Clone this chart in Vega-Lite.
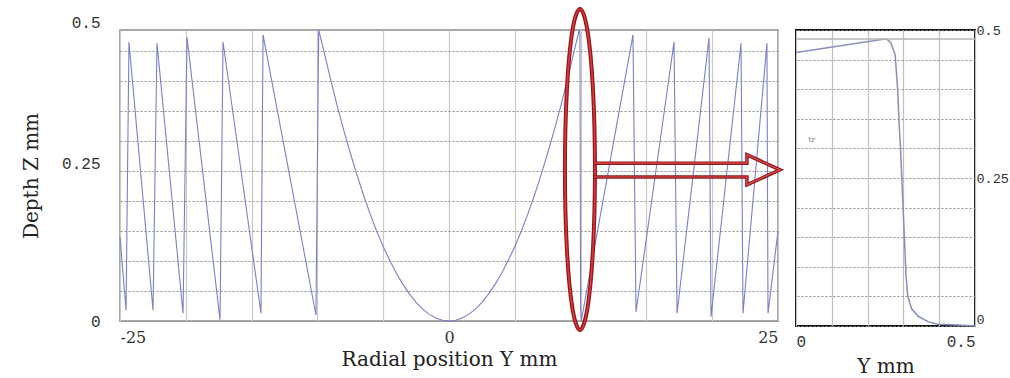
{
  "$schema": "https://vega.github.io/schema/vega-lite/v6.json",
  "background": "white",
  "padding": {"left": 20, "top": 0, "right": 0, "bottom": 0},
  "bounds": "flush",
  "spacing": 18,
  "config": {
    "axis": {"labelFont": "Liberation Mono", "labelFontSize": 16, "labelColor": "#333333", "titleFont": "DejaVu Serif", "titleFontSize": 20, "titleFontWeight": "normal", "titleColor": "#222222", "domain": false, "ticks": false, "tickCount": 40}
  },
  "datasets": {
    "main": [
      {"i": 1, "Y": -25.0, "Z": 0.14},
      {"i": 2, "Y": -24.54, "Z": 0.018},
      {"i": 3, "Y": -24.32, "Z": 0.465},
      {"i": 4, "Y": -22.49, "Z": 0.018},
      {"i": 5, "Y": -22.19, "Z": 0.463},
      {"i": 6, "Y": -20.21, "Z": 0.013},
      {"i": 7, "Y": -19.91, "Z": 0.473},
      {"i": 8, "Y": -17.4, "Z": 0.002},
      {"i": 9, "Y": -17.17, "Z": 0.465},
      {"i": 10, "Y": -14.29, "Z": 0.013},
      {"i": 11, "Y": -14.13, "Z": 0.477},
      {"i": 12, "Y": -10.11, "Z": 0.01},
      {"i": 13, "Y": -9.9, "Z": 0.485},
      {"i": 14, "Y": -9.5, "Z": 0.449},
      {"i": 15, "Y": -9.0, "Z": 0.403},
      {"i": 16, "Y": -8.5, "Z": 0.359},
      {"i": 17, "Y": -8.0, "Z": 0.318},
      {"i": 18, "Y": -7.5, "Z": 0.28},
      {"i": 19, "Y": -7.0, "Z": 0.244},
      {"i": 20, "Y": -6.5, "Z": 0.21},
      {"i": 21, "Y": -6.0, "Z": 0.179},
      {"i": 22, "Y": -5.5, "Z": 0.15},
      {"i": 23, "Y": -5.0, "Z": 0.124},
      {"i": 24, "Y": -4.5, "Z": 0.101},
      {"i": 25, "Y": -4.0, "Z": 0.0795},
      {"i": 26, "Y": -3.5, "Z": 0.061},
      {"i": 27, "Y": -3.0, "Z": 0.0447},
      {"i": 28, "Y": -2.5, "Z": 0.031},
      {"i": 29, "Y": -2.0, "Z": 0.0199},
      {"i": 30, "Y": -1.5, "Z": 0.011},
      {"i": 31, "Y": -1.0, "Z": 0.005},
      {"i": 32, "Y": -0.5, "Z": 0.0012},
      {"i": 33, "Y": 0.0, "Z": 0.0},
      {"i": 34, "Y": 0.5, "Z": 0.0012},
      {"i": 35, "Y": 1.0, "Z": 0.005},
      {"i": 36, "Y": 1.5, "Z": 0.011},
      {"i": 37, "Y": 2.0, "Z": 0.0199},
      {"i": 38, "Y": 2.5, "Z": 0.031},
      {"i": 39, "Y": 3.0, "Z": 0.0447},
      {"i": 40, "Y": 3.5, "Z": 0.061},
      {"i": 41, "Y": 4.0, "Z": 0.0795},
      {"i": 42, "Y": 4.5, "Z": 0.101},
      {"i": 43, "Y": 5.0, "Z": 0.124},
      {"i": 44, "Y": 5.5, "Z": 0.15},
      {"i": 45, "Y": 6.0, "Z": 0.179},
      {"i": 46, "Y": 6.5, "Z": 0.21},
      {"i": 47, "Y": 7.0, "Z": 0.244},
      {"i": 48, "Y": 7.5, "Z": 0.28},
      {"i": 49, "Y": 8.0, "Z": 0.318},
      {"i": 50, "Y": 8.5, "Z": 0.359},
      {"i": 51, "Y": 9.0, "Z": 0.403},
      {"i": 52, "Y": 9.5, "Z": 0.449},
      {"i": 53, "Y": 9.9, "Z": 0.485},
      {"i": 54, "Y": 9.95, "Z": 0.478},
      {"i": 55, "Y": 10.0, "Z": 0.02},
      {"i": 56, "Y": 10.05, "Z": 0.0},
      {"i": 57, "Y": 13.98, "Z": 0.477},
      {"i": 58, "Y": 14.21, "Z": 0.015},
      {"i": 59, "Y": 17.1, "Z": 0.465},
      {"i": 60, "Y": 17.33, "Z": 0.013},
      {"i": 61, "Y": 19.76, "Z": 0.472},
      {"i": 62, "Y": 19.91, "Z": 0.007},
      {"i": 63, "Y": 22.19, "Z": 0.463},
      {"i": 64, "Y": 22.34, "Z": 0.013},
      {"i": 65, "Y": 24.16, "Z": 0.463},
      {"i": 66, "Y": 24.24, "Z": 0.013},
      {"i": 67, "Y": 25.0, "Z": 0.15}
    ],
    "ellipse": [
      {"i": 1, "Y": 11.09, "Z": 0.2525},
      {"i": 2, "Y": 10.94, "Z": 0.386},
      {"i": 3, "Y": 10.52, "Z": 0.484},
      {"i": 4, "Y": 9.95, "Z": 0.52},
      {"i": 5, "Y": 9.38, "Z": 0.484},
      {"i": 6, "Y": 8.96, "Z": 0.386},
      {"i": 7, "Y": 8.81, "Z": 0.2525},
      {"i": 8, "Y": 8.96, "Z": 0.119},
      {"i": 9, "Y": 9.38, "Z": 0.021},
      {"i": 10, "Y": 9.95, "Z": -0.015},
      {"i": 11, "Y": 10.52, "Z": 0.021},
      {"i": 12, "Y": 10.94, "Z": 0.119}
    ],
    "arrow": [
      {"i": 1, "Y": 11.02, "Z": 0.263},
      {"i": 2, "Y": 22.64, "Z": 0.263},
      {"i": 3, "Y": 22.64, "Z": 0.277},
      {"i": 4, "Y": 25.15, "Z": 0.252},
      {"i": 5, "Y": 22.64, "Z": 0.227},
      {"i": 6, "Y": 22.64, "Z": 0.24},
      {"i": 7, "Y": 11.02, "Z": 0.24}
    ],
    "inset": [
      {"i": 1, "Y": 0.0, "Z": 0.462},
      {"i": 2, "Y": 0.253, "Z": 0.485},
      {"i": 3, "Y": 0.265, "Z": 0.478},
      {"i": 4, "Y": 0.277, "Z": 0.458},
      {"i": 5, "Y": 0.284, "Z": 0.399},
      {"i": 6, "Y": 0.288, "Z": 0.342},
      {"i": 7, "Y": 0.292, "Z": 0.3},
      {"i": 8, "Y": 0.298, "Z": 0.215},
      {"i": 9, "Y": 0.303, "Z": 0.147},
      {"i": 10, "Y": 0.307, "Z": 0.088},
      {"i": 11, "Y": 0.312, "Z": 0.051},
      {"i": 12, "Y": 0.323, "Z": 0.029},
      {"i": 13, "Y": 0.342, "Z": 0.016},
      {"i": 14, "Y": 0.37, "Z": 0.007},
      {"i": 15, "Y": 0.397, "Z": 0.003},
      {"i": 16, "Y": 0.435, "Z": 0.002},
      {"i": 17, "Y": 0.494, "Z": 0.0005},
      {"i": 18, "Y": 0.5, "Z": 0.0}
    ],
    "surface": [{"Z": 0.485}],
    "note": [{"Y": 0.034, "Z": 0.315, "label": "tr"}]
  },
  "hconcat": [
    {
      "width": 658,
      "height": 291,
      "view": {"stroke": "#a8a8a8", "strokeWidth": 2},
      "layer": [
        {
          "data": {"name": "main"},
          "mark": {"type": "line", "color": "#7b7fc9", "strokeWidth": 1.1},
          "encoding": {
            "x": {"field": "Y", "type": "quantitative", "scale": {"domain": [-25, 25], "nice": false, "zero": false},
              "axis": {"values": [-25, -20, -15, -10, -5, 0, 5, 10, 15, 20, 25], "labelExpr": "datum.value == 0 ? '0' : datum.value == -25 ? '-25' : datum.value == 25 ? '25' : ''", "grid": true, "gridColor": "#c8c8c8", "gridWidth": 1.2, "labelPadding": 8, "labelFont": "DejaVu Serif", "title": "Radial position  Y mm", "titlePadding": 4}},
            "y": {"field": "Z", "type": "quantitative", "scale": {"domain": [0, 0.485], "nice": false, "zero": false},
              "axis": {"values": [0, 0.05, 0.1, 0.15, 0.2, 0.25, 0.3, 0.35, 0.4, 0.45, 0.485], "labelExpr": "datum.value == 0 ? '0' : datum.value == 0.25 ? '0.25' : datum.value > 0.48 ? '0.5' : ''", "grid": true, "gridColor": "#8c8c8c", "gridDash": [2, 2], "gridOpacity": {"condition": {"test": "datum.value > 0.48", "value": 0}, "value": 1}, "labelBaseline": {"condition": {"test": "datum.value > 0.1", "value": "bottom"}, "value": "middle"}, "labelPadding": 20, "title": "Depth  Z mm", "titlePadding": 20}},
            "order": {"field": "i", "type": "quantitative"}
          }
        },
        {
          "data": {"name": "ellipse"},
          "mark": {"type": "line", "interpolate": "cardinal-closed", "color": "#8b1a1a", "strokeWidth": 4},
          "encoding": {
            "x": {"field": "Y", "type": "quantitative"},
            "y": {"field": "Z", "type": "quantitative"},
            "order": {"field": "i", "type": "quantitative"}
          }
        },
        {
          "data": {"name": "ellipse"},
          "mark": {"type": "line", "interpolate": "cardinal-closed", "color": "#e8343c", "strokeWidth": 1.5},
          "encoding": {
            "x": {"field": "Y", "type": "quantitative"},
            "y": {"field": "Z", "type": "quantitative"},
            "order": {"field": "i", "type": "quantitative"}
          }
        },
        {
          "data": {"name": "arrow"},
          "mark": {"type": "line", "color": "#8b1a1a", "strokeWidth": 3.5},
          "encoding": {
            "x": {"field": "Y", "type": "quantitative"},
            "y": {"field": "Z", "type": "quantitative"},
            "order": {"field": "i", "type": "quantitative"}
          }
        },
        {
          "data": {"name": "arrow"},
          "mark": {"type": "line", "color": "#ea4a52", "strokeWidth": 1.2},
          "encoding": {
            "x": {"field": "Y", "type": "quantitative"},
            "y": {"field": "Z", "type": "quantitative"},
            "order": {"field": "i", "type": "quantitative"}
          }
        }
      ]
    },
    {
      "width": 179,
      "height": 296,
      "view": {"stroke": "#111111", "strokeWidth": 2},
      "layer": [
        {
          "data": {"name": "inset"},
          "mark": {"type": "line", "color": "#8a8fba", "strokeWidth": 1.5},
          "encoding": {
            "x": {"field": "Y", "type": "quantitative", "scale": {"domain": [0, 0.5], "nice": false, "zero": false},
              "axis": {"values": [0, 0.1, 0.2, 0.3, 0.4, 0.5], "labelExpr": "datum.value == 0 ? '0' : datum.value == 0.5 ? '0.5' : ''", "grid": true, "gridColor": "#c0c0c0", "gridWidth": 1.2, "labelPadding": 7, "title": "Y mm", "titlePadding": 7}},
            "y": {"field": "Z", "type": "quantitative", "scale": {"domain": [0, 0.5], "nice": false, "zero": false},
              "axis": {"orient": "right", "values": [0, 0.05, 0.1, 0.15, 0.2, 0.25, 0.3, 0.35, 0.4, 0.45, 0.5], "labelExpr": "datum.value == 0 ? '0' : datum.value == 0.25 ? '0.25' : datum.value == 0.5 ? '0.5' : ''", "grid": true, "gridColor": "#8c8c8c", "gridDash": [2, 2], "labelBaseline": {"condition": {"test": "datum.value == 0", "value": "bottom"}, "value": "middle"}, "labelPadding": 1, "labelFontSize": 13.5, "title": null}},
            "order": {"field": "i", "type": "quantitative"}
          }
        },
        {
          "data": {"name": "surface"},
          "mark": {"type": "rule", "color": "#b4b4b4", "strokeWidth": 1.5},
          "encoding": {"y": {"field": "Z", "type": "quantitative"}}
        },
        {
          "data": {"name": "note"},
          "mark": {"type": "text", "color": "#888888", "fontSize": 8, "font": "DejaVu Serif", "align": "left"},
          "encoding": {
            "x": {"field": "Y", "type": "quantitative"},
            "y": {"field": "Z", "type": "quantitative"},
            "text": {"field": "label"}
          }
        }
      ]
    }
  ]
}
